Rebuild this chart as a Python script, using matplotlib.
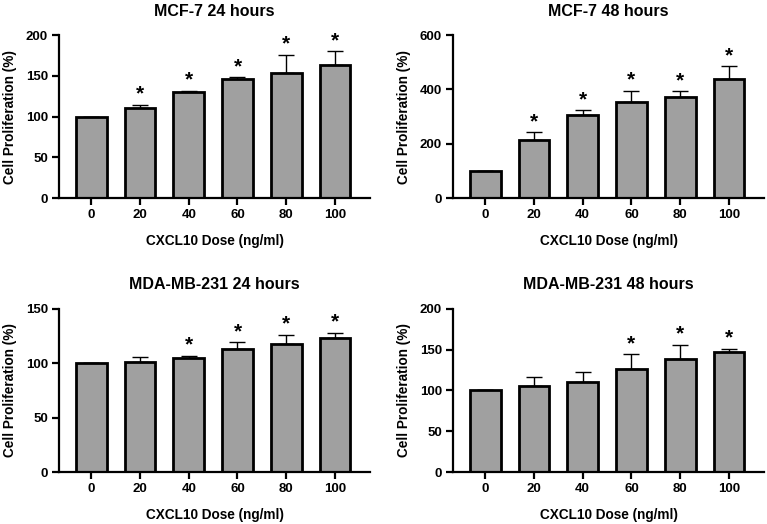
import matplotlib
matplotlib.use("Agg")
import matplotlib.pyplot as plt
import numpy as np

plt.rcParams['font.family'] = ['Liberation Sans', 'DejaVu Sans']
plt.rcParams['font.weight'] = 'bold'

doses = ["0", "20", "40", "60", "80", "100"]

mcf7_24 = [100, 111, 130, 146, 154, 163]
mcf7_24_err = [0, 3, 2, 2, 22, 17]
mcf7_24_sig = [False, True, True, True, True, True]

mcf7_48 = [100, 212, 307, 352, 372, 440]
mcf7_48_err = [0, 30, 16, 43, 21, 45]
mcf7_48_sig = [False, True, True, True, True, True]

mda_24 = [100, 101, 105, 113, 118, 123]
mda_24_err = [0, 5, 2, 6, 8, 5]
mda_24_sig = [False, False, True, True, True, True]

mda_48 = [100, 105, 110, 126, 138, 147]
mda_48_err = [0, 11, 12, 18, 18, 4]
mda_48_sig = [False, False, False, True, True, True]

panels = [
    ("MCF-7 24 hours", mcf7_24, mcf7_24_err, mcf7_24_sig, 200, 50, [0.077, 0.622, 0.4055, 0.311]),
    ("MCF-7 48 hours", mcf7_48, mcf7_48_err, mcf7_48_sig, 600, 200, [0.5906, 0.622, 0.4055, 0.311]),
    ("MDA-MB-231 24 hours", mda_24, mda_24_err, mda_24_sig, 150, 50, [0.077, 0.0992, 0.4055, 0.3117]),
    ("MDA-MB-231 48 hours", mda_48, mda_48_err, mda_48_sig, 200, 50, [0.5906, 0.0992, 0.4055, 0.3117]),
]

fig = plt.figure(figsize=(7.67, 5.24), dpi=100)

for title, vals, errs, sig, ymax, step, pos in panels:
    ax = fig.add_axes(pos)
    x = np.arange(len(doses))
    ax.bar(x, vals, width=0.63, color='#a0a0a0', edgecolor='black', linewidth=2, zorder=2)
    ax.errorbar(x, vals, yerr=[np.zeros(len(errs)), errs], fmt='none', ecolor='black',
                elinewidth=1, capsize=6, capthick=1, zorder=1)
    for xi, v, e, s in zip(x, vals, errs, sig):
        if s:
            ax.annotate('*', (xi, v + e), xytext=(0, 1), textcoords='offset points',
                        ha='center', va='bottom', fontsize=15, fontweight='bold')
    ax.set_xlim(-0.66, 5.72)
    ax.set_ylim(0, ymax)
    ax.set_yticks(np.arange(0, ymax + 1, step))
    ax.set_xticks(x)
    ax.set_xticklabels(doses)
    ax.spines['top'].set_visible(False)
    ax.spines['right'].set_visible(False)
    ax.spines['left'].set_linewidth(1.6)
    ax.spines['bottom'].set_linewidth(1.6)
    ax.tick_params(width=1.6, length=5, labelsize=9.5, pad=3)
    for lab in ax.get_xticklabels() + ax.get_yticklabels():
        lab.set_fontweight('bold')
    ax.set_title(title, fontsize=11.5, fontweight='bold', pad=14)
    ax.set_xlabel("CXCL10 Dose (ng/ml)", fontsize=9.8, fontweight='bold', labelpad=9)
    ax.set_ylabel("Cell Proliferation (%)", fontsize=9.8, fontweight='bold', labelpad=6)

fig.savefig("out.png", dpi=100)
